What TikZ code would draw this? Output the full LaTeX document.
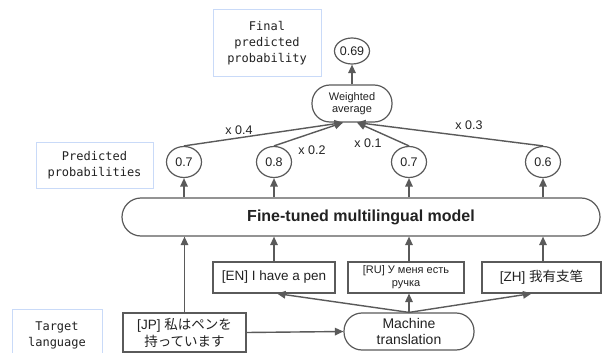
\documentclass[tikz,border=0pt]{standalone}
\usepackage{fontspec}
\setmainfont{Liberation Sans}
\newfontfamily\monofont{DejaVu Sans Mono}
\newfontfamily\jpfont{Noto Sans CJK JP}
\newfontfamily\zhfont{Noto Sans CJK SC}
\usepackage{tikz}
\usetikzlibrary{arrows.meta,positioning,shapes.geometric}

\definecolor{linegray}{HTML}{5A5A5A}
\definecolor{noteblue}{HTML}{C9DAF8}
\definecolor{inkgray}{HTML}{222222}

\begin{document}
\begin{tikzpicture}[
		x=1pt,y=-1pt,
		>={Triangle[length=8.5pt,width=7.5pt]},
		every node/.style={text=inkgray, inner sep=1pt},
		flow/.style={->, draw=linegray, line width=1.4pt},
		pill/.style={draw=linegray, line width=1.2pt, fill=white},
		probnode/.style={pill, ellipse, inner sep=0pt, minimum width=35pt, minimum height=31pt,
			font=\fontsize{12.5}{14}\selectfont},
		inbox/.style={draw=linegray, line width=1.1pt, fill=white, align=center},
		note/.style={draw=noteblue, line width=1pt, align=center,
			font=\monofont\fontsize{12}{16}\selectfont},
		weight/.style={font=\fontsize{12.5}{14}\selectfont}
		]
		
		% =========================
		% canvas
		% =========================
		\useasboundingbox (0,0) rectangle (603,353);
		\fill[white] (0,0) rectangle (603,353);
		
		% =========================
		% Side notes
		% =========================
		\node[note, minimum width=108pt, minimum height=67pt] (finalnote) at (267,43.5)
		{Final\\predicted\\probability};
		\node[note, minimum width=117pt, minimum height=46pt] (probnote) at (94.5,165)
		{Predicted\\probabilities};
		\node[note, minimum width=90pt, minimum height=52pt] (langnote) at (57,335)
		{Target\\language};
		
		% =========================
		% Top: averaging
		% =========================
		\node[probnode, minimum height=26pt] (final) at (352,51) {0.69};
		\node[pill, rounded corners=18pt, minimum width=80pt, minimum height=37pt, align=center,
		font=\fontsize{11}{12.5}\selectfont] (wavg) at (352,103.5) {Weighted\\average};
		
		\node[probnode] (p1) at (184,162) {0.7};
		\node[probnode] (p2) at (274,162) {0.8};
		\node[probnode] (p3) at (409,162) {0.7};
		\node[probnode] (p4) at (543,162) {0.6};
		
		\draw[flow] (wavg.north) -- (final.south);
		\draw[flow] (p1.north) -- ([xshift=-9pt]wavg.south);
		\draw[flow] (p2.north) -- ([xshift=-9pt]wavg.south);
		\draw[flow] (p3.north) -- ([xshift=5pt]wavg.south);
		\draw[flow] (p4.north) -- ([xshift=5pt]wavg.south);
		
		\node[weight] (w1) at (239,130) {x 0.4};
		\node[weight] (w2) at (312,150) {x 0.2};
		\node[weight] (w3) at (368,143) {x 0.1};
		\node[weight] (w4) at (469,125) {x 0.3};
		
		% =========================
		% Middle: model
		% =========================
		\node[pill, rounded corners=19pt, minimum width=478pt, minimum height=38pt,
		font=\bfseries\fontsize{16}{18}\selectfont] (model) at (361,217)
		{Fine-tuned multilingual model};
		
		\foreach \p in {p1,p2,p3,p4}
		\draw[flow] (\p.south |- model.north) -- (\p.south);
		
		% =========================
		% Bottom: inputs and translation
		% =========================
		\node[inbox, minimum width=122pt, minimum height=31pt,
		font=\fontsize{13.5}{15}\selectfont] (en) at (274,277.5) {[EN] I have a pen};
		\node[inbox, minimum width=116pt, minimum height=31pt,
		font=\fontsize{11}{13}\selectfont] (ru) at (406,277.5) {[RU] У меня есть\\ручка};
		\node[inbox, minimum width=119pt, minimum height=31pt,
		font=\fontsize{13.5}{15}\selectfont] (zh) at (541.5,277.5) {[ZH] {\zhfont 我有支笔}};
		\node[inbox, minimum width=123pt, minimum height=39pt,
		font=\fontsize{13.5}{17}\selectfont] (jp) at (184.5,332.5)
		{[JP] {\jpfont 私はペンを}\\{\jpfont 持っています}};
		\node[pill, rounded corners=18pt, minimum width=130pt, minimum height=37pt, align=center,
		font=\fontsize{14}{16.5}\selectfont] (mt) at (409,331.5) {Machine\\translation};
		
		\draw[flow] (jp.north) -- (jp.north |- model.south);
		\draw[flow] (en.north) -- (en.north |- model.south);
		\draw[flow] (ru.north -| mt.north) -- (mt.north |- model.south);
		\draw[flow] (zh.north -| p4.south) -- (p4.south |- model.south);
		
		\draw[flow] (jp.east) -- (mt.west);
		\draw[flow] (mt.north) -- (mt.north |- ru.south);
		\draw[flow] (mt.north) -- ([xshift=3pt]en.south);
		\draw[flow] (mt.north) -- ([xshift=-10pt]zh.south);
	\end{tikzpicture}
\end{document}
